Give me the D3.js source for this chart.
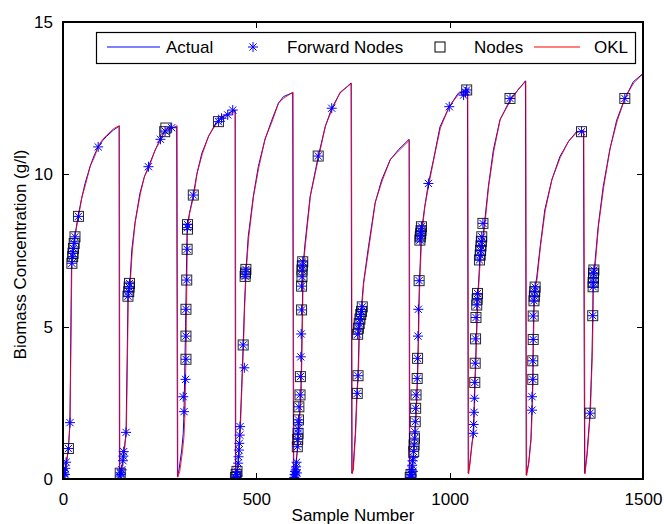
<!DOCTYPE html>
<html>
<head>
<meta charset="utf-8">
<script src="https://cdn.jsdelivr.net/npm/d3@7"></script>
<style>
  html, body { margin: 0; padding: 0; background: #fff; }
  svg { display: block; font-family: "Liberation Sans", Arial, Helvetica, sans-serif; }
</style>
</head>
<body>
<svg id="chart" width="664" height="524"></svg>
<script>
// Axis ticks and legend labels
const xTicks = [0, 500, 1000, 1500];
const yTicks = [0, 5, 10, 15];
const legendLabels = ["Actual", "Forward Nodes", "Nodes", "OKL"];

// Measured biomass, [sample, g/l], ten batches of about 150 samples each
const actual = [
  [0,0.02],[4,0.15],[8,0.45],[14,1.0],[18,1.85],[20,4.5],[22,7.1],[26,7.6],[31,8.0],[39,8.62],[48,9.2],[57,9.7],[70,10.25],[80,10.6],[91,10.9],[102,11.1],[113,11.25],[130,11.45],[145,11.58],
  [146,0.12],[149,0.19],[155,0.6],[158,0.9],[163,1.53],[166,4.0],[168,6.0],[173,6.42],[178,7.52],[186,8.39],[199,9.38],[210,9.9],[221,10.25],[237,10.75],[251,11.15],[264,11.42],[280,11.52],[294,11.56],
  [296,0.08],[300,0.3],[307,0.95],[311,1.5],[313,2.2],[317,5.0],[321,8.28],[327,8.72],[337,9.32],[346,10.0],[359,10.69],[376,11.23],[397,11.73],[410,11.85],[427,12.0],[445,12.11],
  [446,0.08],[449,0.1],[452,0.4],[455,0.9],[458,1.7],[462,3.0],[466,4.4],[469,5.6],[473,6.8],[479,7.95],[492,9.26],[505,10.25],[522,11.13],[540,11.78],[557,12.33],[570,12.55],[594,12.68],
  [596,0.1],[599,0.2],[603,0.6],[607,1.06],[611,1.94],[615,2.76],[617,4.0],[619,5.55],[620,6.5],[621,7.0],[626,7.74],[639,9.26],[660,10.58],[678,11.56],[695,12.17],[716,12.66],[745,13.0],
  [747,0.19],[750,0.3],[756,1.5],[760,2.81],[763,3.39],[766,4.85],[771,5.5],[777,6.42],[790,7.62],[807,9.05],[824,9.81],[846,10.47],[867,10.8],[895,11.15],
  [896,0.13],[899,0.1],[903,0.4],[907,0.9],[910,1.34],[913,2.2],[915,2.76],[917,3.6],[919,4.69],[920,5.57],[922,6.51],[927,8.1],[935,8.9],[945,9.7],[958,10.47],[975,11.56],[999,12.22],[1022,12.66],[1046,12.77],
  [1048,0.19],[1052,0.5],[1057,1.1],[1061,1.5],[1063,2.2],[1065,3.17],[1067,3.8],[1069,4.7],[1071,5.4],[1073,6.05],[1078,7.19],[1084,7.7],[1090,8.39],[1100,9.59],[1113,10.8],[1130,11.78],[1158,12.49],[1177,12.77],[1196,13.07],
  [1198,0.13],[1204,0.5],[1210,1.3],[1213,2.4],[1215,3.3],[1216,4.6],[1218,5.8],[1221,6.3],[1225,6.6],[1234,7.62],[1246,8.83],[1264,9.81],[1285,10.58],[1307,11.07],[1328,11.4],[1346,11.42],
  [1349,0.19],[1355,0.8],[1363,2.16],[1368,4.0],[1370,5.36],[1371,6.5],[1375,7.0],[1384,8.28],[1397,9.59],[1414,10.8],[1432,11.78],[1453,12.49],[1475,13.04],[1500,13.31]
];

// OKL estimate, [sample, g/l]
const okl = [
  [0,0.0],[5,0.2],[9,0.5],[14,1.05],[18,1.8],[21,4.8],[23,7.2],[27,7.65],[32,8.05],[40,8.6],[49,9.25],[58,9.65],[71,10.3],[81,10.55],[92,10.95],[103,11.15],[114,11.3],[131,11.5],[146,11.6],
  [147,0.1],[150,0.2],[156,0.65],[159,0.95],[164,1.6],[167,4.2],[169,6.05],[174,6.45],[179,7.45],[187,8.45],[200,9.35],[211,9.95],[222,10.2],[238,10.8],[252,11.1],[265,11.5],[281,11.5],[295,11.6],
  [297,0.06],[302,0.25],[309,0.9],[313,1.4],[316,2.3],[319,5.1],[322,8.2],[328,8.75],[338,9.28],[347,10.05],[360,10.65],[377,11.28],[398,11.68],[411,11.9],[428,11.95],[446,12.08],
  [447,0.06],[450,0.12],[453,0.45],[456,0.95],[459,1.75],[463,3.1],[467,4.45],[470,5.7],[474,6.85],[480,7.9],[493,9.3],[506,10.2],[523,11.18],[541,11.74],[558,12.36],[571,12.5],[595,12.7],
  [597,0.08],[600,0.22],[604,0.65],[608,1.1],[612,2.0],[616,2.8],[618,4.1],[620,5.6],[621,6.55],[622,7.05],[627,7.7],[640,9.3],[661,10.55],[679,11.6],[696,12.13],[717,12.7],[746,12.98],
  [748,0.17],[751,0.32],[757,1.55],[761,2.85],[764,3.45],[767,4.9],[772,5.45],[778,6.45],[791,7.58],[808,9.1],[825,9.77],[847,10.5],[868,10.77],[896,11.12],
  [897,0.12],[900,0.12],[904,0.45],[908,0.95],[911,1.4],[914,2.25],[916,2.8],[918,3.65],[920,4.75],[921,5.6],[923,6.55],[928,8.05],[936,8.95],[946,9.65],[959,10.5],[976,11.52],[1000,12.25],[1023,12.62],[1047,12.8],
  [1049,0.17],[1053,0.55],[1058,1.15],[1062,1.55],[1064,2.25],[1066,3.2],[1068,3.85],[1070,4.75],[1072,5.45],[1074,6.1],[1079,7.15],[1085,7.75],[1091,8.35],[1101,9.62],[1114,10.75],[1131,11.82],[1159,12.45],[1178,12.8],[1197,13.05],
  [1199,0.11],[1205,0.55],[1211,1.35],[1214,2.45],[1216,3.35],[1217,4.65],[1219,5.85],[1222,6.35],[1226,6.55],[1235,7.65],[1247,8.8],[1265,9.85],[1286,10.55],[1308,11.1],[1329,11.37],[1347,11.45],
  [1350,0.17],[1356,0.85],[1364,2.2],[1369,4.1],[1371,5.4],[1372,6.55],[1376,6.95],[1385,8.32],[1398,9.55],[1415,10.85],[1433,11.74],[1454,12.52],[1476,13.0],[1500,13.3]
];

// Forward node locations, [sample, g/l]
const forwardNodes = [
  [1,0.1],[3,0.2],[5,0.15],[6,0.35],[8,0.55],[14,1.0],[18,1.85],[23,7.08],[25,7.3],[26,7.41],[27,7.57],[29,7.73],[31,7.95],[40,8.62],[91,10.9],
  [147,0.1],[149,0.2],[150,0.15],[152,0.3],[155,0.6],[156,0.75],[157,0.9],[163,1.53],[168,6.0],[170,6.15],[171,6.3],[172,6.42],[221,10.25],[252,11.15],[264,11.42],[281,11.53],
  [311,2.7],[313,2.21],[317,3.27],[318,3.93],[318,4.69],[318,5.57],[320,6.53],[321,7.54],[322,8.25],[322,8.35],[337,9.32],[402,11.73],[410,11.84],[426,11.95],[439,12.11],
  [446,0.05],[448,0.15],[450,0.25],[451,0.1],[453,0.52],[454,0.73],[455,0.95],[456,1.17],[457,1.44],[458,1.72],[466,4.4],[469,3.65],[471,6.65],[472,6.76],[473,6.88],
  [598,0.05],[599,0.15],[600,0.25],[601,0.1],[602,0.3],[603,0.4],[604,0.55],[605,0.2],[606,1.06],[607,1.3],[608,1.5],[608,1.65],[609,1.85],[609,1.94],[610,2.37],[613,2.76],[614,3.36],[615,4.01],[616,4.76],[617,5.55],[617,6.33],[618,6.64],[618,6.86],[619,7.0],[620,7.13],[660,10.6],[695,12.17],
  [761,2.81],[763,3.39],[762,4.75],[764,4.95],[766,5.1],[768,5.25],[770,5.4],[772,5.5],[774,5.65],
  [898,0.05],[900,0.15],[901,0.3],[902,0.1],[903,0.45],[904,0.6],[905,0.25],[906,0.7],[907,0.9],[908,1.12],[909,1.34],[910,1.55],[911,1.88],[912,2.32],[913,2.76],[916,3.3],[917,3.96],[918,4.69],[919,5.57],[921,6.51],[923,7.84],[924,7.95],[925,8.05],[926,8.15],[927,8.28],[945,9.7],[999,12.22],[1036,12.6],[1041,12.7],[1044,12.77],
  [1061,1.5],[1062,1.79],[1063,2.19],[1064,2.65],[1065,3.17],[1066,3.8],[1067,4.6],[1068,5.3],[1070,5.71],[1071,5.9],[1072,6.09],[1077,7.19],[1079,7.35],[1080,7.5],[1081,7.65],[1082,7.8],[1083,7.95],[1086,8.39],[1156,12.49],
  [1213,2.26],[1213,2.7],[1215,3.27],[1215,3.88],[1216,4.58],[1216,5.35],[1218,5.85],[1219,6.0],[1220,6.15],[1221,6.3],[1341,11.4],
  [1363,2.16],[1370,5.36],[1371,6.31],[1371,6.45],[1372,6.6],[1372,6.75],[1373,6.86],[1453,12.49]
];

// Node locations, [sample, g/l]
const nodes = [
  [14,1.0],[23,7.08],[25,7.3],[26,7.41],[27,7.57],[29,7.73],[31,7.95],[40,8.62],
  [148,0.19],[168,6.0],[170,6.15],[171,6.3],[172,6.42],[263,11.4],[266,11.52],
  [318,3.93],[318,4.69],[318,5.57],[320,6.53],[321,7.54],[322,8.2],[322,8.35],[337,9.32],[402,11.73],
  [446,0.05],[448,0.15],[450,0.25],[466,4.4],[471,6.65],[472,6.76],[473,6.88],
  [606,1.06],[607,1.3],[608,1.5],[609,1.94],[610,2.37],[613,2.76],[614,3.36],[617,5.55],[617,6.33],[618,6.64],[618,6.86],[619,7.0],[620,7.13],[660,10.6],
  [761,2.81],[763,3.39],[762,4.75],[764,4.95],[766,5.1],[768,5.25],[770,5.4],[772,5.5],[774,5.65],
  [898,0.05],[900,0.15],[907,0.9],[908,1.12],[909,1.34],[911,1.88],[912,2.32],[913,2.76],[916,3.3],[917,3.96],[921,6.51],[923,7.84],[924,7.95],[925,8.05],[926,8.15],[927,8.28],[1044,12.77],
  [1065,3.17],[1066,3.8],[1067,4.6],[1068,5.3],[1070,5.71],[1071,5.9],[1072,6.09],[1077,7.19],[1079,7.35],[1080,7.5],[1081,7.65],[1082,7.8],[1083,7.95],[1086,8.39],[1156,12.49],
  [1215,3.27],[1215,3.88],[1216,4.58],[1216,5.35],[1218,5.85],[1219,6.0],[1220,6.15],[1221,6.3],[1341,11.4],
  [1363,2.16],[1370,5.36],[1371,6.31],[1371,6.45],[1372,6.6],[1372,6.75],[1373,6.86],[1453,12.49]
];

const BLUE = "#0000ff", RED = "#ff0000";
const FONT = 17;

const svg = d3.select("#chart");
const plotLeft = 63, plotRight = 643, plotTop = 22, plotBottom = 479;

const x = d3.scaleLinear().domain([0, 1500]).range([plotLeft, plotRight]);
const y = d3.scaleLinear().domain([0, 15]).range([plotBottom, plotTop]);

const line = d3.line().x(d => x(d[0])).y(d => y(d[1]));

const plot = svg.append("g");
plot.append("clipPath").attr("id", "clip")
  .append("rect").attr("x", plotLeft).attr("y", plotTop)
  .attr("width", plotRight - plotLeft).attr("height", plotBottom - plotTop);
const inner = plot.append("g").attr("clip-path", "url(#clip)");

// Curves
inner.append("path").datum(actual).attr("d", line)
  .attr("fill", "none").attr("stroke", BLUE).attr("stroke-width", 1);
inner.append("path").datum(okl).attr("d", line)
  .attr("fill", "none").attr("stroke", RED).attr("stroke-width", 1).attr("stroke-opacity", 0.85);

// Asterisk marker path centred on the origin
function asterisk(r) {
  const d = r * 0.72;
  return `M${-r},0H${r}M0,${-r}V${r}M${-d},${-d}L${d},${d}M${-d},${d}L${d},${-d}`;
}

// Nodes: black squares
inner.append("g").selectAll("rect").data(nodes).join("rect")
  .attr("x", d => x(d[0]) - 5).attr("y", d => y(d[1]) - 5)
  .attr("width", 10).attr("height", 10)
  .attr("fill", "none").attr("stroke", "#000").attr("stroke-width", 1).attr("stroke-opacity", 0.85);

// Forward nodes: blue asterisks
inner.append("g").selectAll("path").data(forwardNodes).join("path")
  .attr("transform", d => `translate(${x(d[0])},${y(d[1])})`)
  .attr("d", asterisk(5))
  .attr("fill", "none").attr("stroke", BLUE).attr("stroke-width", 1);

// Axes (ticks pointing inward, box on all sides)
const axG = svg.append("g").attr("shape-rendering", "crispEdges");
const xAxisB = d3.axisBottom(x).tickValues(xTicks).tickSize(-6).tickPadding(14).tickFormat(d3.format("d"));
const xAxisT = d3.axisTop(x).tickValues(xTicks).tickSize(-6).tickFormat("");
const yAxisL = d3.axisLeft(y).tickValues(yTicks).tickSize(-6).tickPadding(10).tickFormat(d3.format("d"));
const yAxisR = d3.axisRight(y).tickValues(yTicks).tickSize(-6).tickFormat("");

function styleAxis(g) {
  g.select(".domain").remove();
  g.selectAll(".tick line").attr("stroke", "#000");
  g.selectAll("text").attr("fill", "#000").attr("font-size", FONT)
    .attr("font-family", "Liberation Sans, Arial, Helvetica, sans-serif");
}
axG.append("g").attr("transform", `translate(0,${plotBottom})`).call(xAxisB).call(styleAxis);
axG.append("g").attr("transform", `translate(0,${plotTop})`).call(xAxisT).call(styleAxis);
axG.append("g").attr("transform", `translate(${plotLeft},0)`).call(yAxisL).call(styleAxis);
axG.append("g").attr("transform", `translate(${plotRight},0)`).call(yAxisR).call(styleAxis);

axG.append("rect")
  .attr("x", plotLeft).attr("y", plotTop)
  .attr("width", plotRight - plotLeft).attr("height", plotBottom - plotTop)
  .attr("fill", "none").attr("stroke", "#000").attr("stroke-width", 1.2);

// Axis titles
svg.append("text")
  .attr("x", (plotLeft + plotRight) / 2).attr("y", 521)
  .attr("text-anchor", "middle").attr("font-size", FONT)
  .text("Sample Number");
svg.append("text")
  .attr("transform", `translate(26,${(plotTop + plotBottom) / 2 + 4}) rotate(-90)`)
  .attr("text-anchor", "middle").attr("font-size", FONT)
  .text("Biomass Concentration (g/l)");

// Legend
const lg = svg.append("g");
lg.append("rect").attr("x", 96.5).attr("y", 32.5).attr("width", 539).attr("height", 31)
  .attr("fill", "#fff").attr("stroke", "#000").attr("stroke-width", 1.2);
const ly = 47;
const textX = [166, 287, 474, 594];
lg.append("line").attr("x1", 107).attr("x2", 160).attr("y1", ly).attr("y2", ly)
  .attr("stroke", BLUE).attr("stroke-width", 1);
lg.append("path").attr("transform", `translate(253,${ly})`).attr("d", asterisk(5))
  .attr("fill", "none").attr("stroke", BLUE).attr("stroke-width", 1);
lg.append("rect").attr("x", 435).attr("y", ly - 5).attr("width", 10).attr("height", 10)
  .attr("fill", "none").attr("stroke", "#000").attr("stroke-width", 1);
lg.append("line").attr("x1", 534).attr("x2", 580).attr("y1", ly).attr("y2", ly)
  .attr("stroke", RED).attr("stroke-width", 1);
lg.selectAll("text.lbl").data(legendLabels).join("text")
  .attr("class", "lbl")
  .attr("x", (d, i) => textX[i]).attr("y", ly + 6)
  .attr("font-size", FONT).attr("fill", "#000")
  .text(d => d);
</script>
</body>
</html>
